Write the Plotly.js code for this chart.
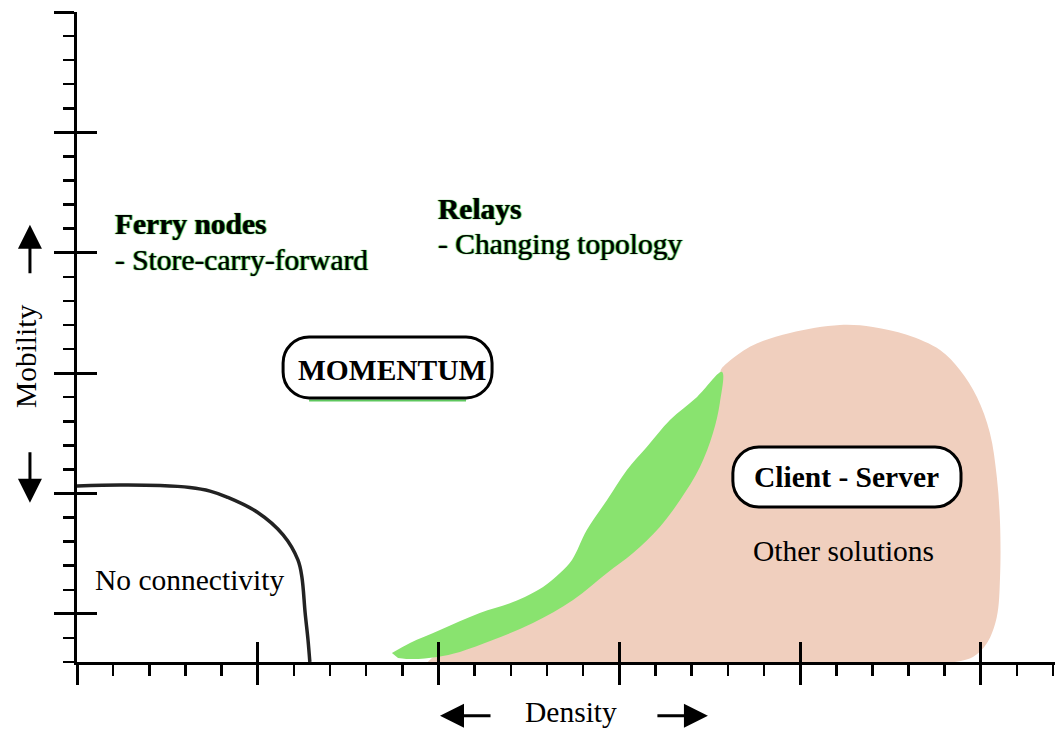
<!DOCTYPE html>
<html><head><meta charset="utf-8">
<script src="https://cdn.plot.ly/plotly-3.0.1.min.js"></script>
<style>html,body{margin:0;padding:0;background:#fff}#chart{width:1056px;height:730px}</style>
</head><body><div id="chart"></div>
<script>
// ---- data (x = density units, y = mobility units) ----
const noConnX = [0, 1.19, 2.30, 3.12, 3.68, 4.15, 4.98, 5.70, 6.11, 6.22, 6.31, 6.39, 6.44];
const noConnY = [7.31, 7.35, 7.33, 7.25, 7.10, 6.85, 6.23, 5.28, 4.24, 3.53, 2.04, 0.91, 0];

const relayX = [8.71, 9.21, 10.04, 11.14, 12.06, 12.89, 13.36, 13.69, 14.10, 14.66, 15.21, 15.76, 16.40, 17.15, 17.84,
                17.78, 17.59, 17.23, 16.68, 16.12, 15.38, 14.66, 13.72, 12.61, 11.50, 10.59, 9.96, 9.29, 8.88];
const relayY = [0.37, 0.79, 1.33, 2.04, 2.49, 3.12, 3.70, 4.24, 5.48, 6.73, 7.98, 8.93, 10.05, 11.01, 12.05,
                10.76, 9.51, 8.10, 6.73, 5.61, 4.53, 3.70, 2.58, 1.62, 0.91, 0.42, 0.21, 0.12, 0.17];

const otherX = [9.70, 9.90, 10.50, 11.40, 12.50, 13.60, 14.55, 15.28, 16.02, 16.58, 17.12, 17.48, 17.68, 17.80,
                17.84, 18.61, 19.72, 21.10, 22.01, 22.95, 23.87, 24.42, 24.89, 25.25, 25.44, 25.53, 25.53, 25.44, 25.17, 24.78, 24.28];
const otherY = [0, 0.25, 0.48, 0.98, 1.70, 2.68, 3.82, 4.66, 5.75, 6.88, 8.25, 9.65, 10.85, 12.10,
                12.21, 13.09, 13.67, 14.00, 13.92, 13.59, 12.96, 12.13, 11.01, 9.51, 7.69, 5.77, 3.53, 1.87, 0.79, 0.21, 0];

const xRange = [0, 27.05];
const yRange = [0, 27];
const xMajorStep = 5, xMinorStep = 1;
const yMajorStart = 2, yMajorStep = 5, yMinorStep = 1;

const groupTitles = ["Ferry nodes", "Relays"];
const groupNotes = ["- Store-carry-forward", "- Changing topology"];
const boxLabels = ["MOMENTUM", "Client - Server"];
const plainLabels = ["Other solutions", "No connectivity"];
const axisLabels = ["Density", "Mobility"];

// ---- layout constants ----
const W = 1056, H = 730;
const M = {l: 77, r: 1, t: 12, b: 68, pad: 0};
const pxX = (W - M.l - M.r) / (xRange[1] - xRange[0]);
const pxY = (H - M.t - M.b) / (yRange[1] - yRange[0]);
const SERIF = '"Liberation Serif", "Times New Roman", serif';
const FS = 29.5;
const GREEN_SHADOW = '0.7px 0px 0.8px #35b535, -0.7px 0px 0.8px #35b535';

function roundedPath(x0, x1, y0, y1, rpx) {
  const rx = rpx / pxX, ry = rpx / pxY, k = 0.5523;
  return `M${x0+rx},${y1} L${x1-rx},${y1} ` +
    `C${x1-rx+k*rx},${y1} ${x1},${y1-ry+k*ry} ${x1},${y1-ry} ` +
    `L${x1},${y0+ry} C${x1},${y0+ry-k*ry} ${x1-rx+k*rx},${y0} ${x1-rx},${y0} ` +
    `L${x0+rx},${y0} C${x0+rx-k*rx},${y0} ${x0},${y0+ry-k*ry} ${x0},${y0+ry} ` +
    `L${x0},${y1-ry} C${x0},${y1-ry+k*ry} ${x0+rx-k*rx},${y1} ${x0+rx},${y1} Z`;
}

const boxes = [
  {x0: 5.70, x1: 11.48, y0: 10.97, y1: 13.50, cx: 8.71, cy: 12.14},
  {x0: 18.14, x1: 24.45, y0: 6.44, y1: 8.93, cx: 21.28, cy: 7.69}
];
const R = 26;

const traces = [
  {x: otherX, y: otherY, mode: 'lines', fill: 'toself', fillcolor: '#f0cfbe',
   line: {color: 'rgba(0,0,0,0)', width: 0, shape: 'spline', smoothing: 1}, hoverinfo: 'skip'},
  {x: relayX, y: relayY, mode: 'lines', fill: 'toself', fillcolor: '#89e36f',
   line: {color: 'rgba(0,0,0,0)', width: 0, shape: 'spline', smoothing: 1}, hoverinfo: 'skip'},
  {x: noConnX, y: noConnY, mode: 'lines',
   line: {color: '#222', width: 3.5, shape: 'spline', smoothing: 1}, hoverinfo: 'skip'},
  {x: [], y: [], xaxis: 'x2', yaxis: 'y2', hoverinfo: 'skip'}
];

const shapes = boxes.map(b => ({
  type: 'path', xref: 'x', yref: 'y', layer: 'above',
  path: roundedPath(b.x0, b.x1, b.y0, b.y1, R),
  fillcolor: '#ffffff', line: {color: '#000', width: 3}
}));
// green shadow line under the MOMENTUM box
shapes.unshift({
  type: 'line', xref: 'x', yref: 'y', layer: 'above',
  x0: boxes[0].x0 + R / pxX, x1: boxes[0].x1 - R / pxX,
  y0: boxes[0].y0 - 2.5 / pxY, y1: boxes[0].y0 - 2.5 / pxY,
  line: {color: '#5ec85e', width: 2}
});

function txt(text, x, y, o) {
  o = o || {};
  return Object.assign({
    x, y, xref: 'x', yref: 'y', text, showarrow: false,
    xanchor: o.xanchor || 'center', yanchor: 'middle',
    font: Object.assign({family: SERIF, size: FS, color: '#000'}, o.font || {})
  }, o.extra || {});
}
// positions below the x axis are given in paper units (0 = axis, 1 = top of plot)
const belowY = -0.0775, arrowRowY = -0.0825, leftColX = -0.0481;
function arrow(x, y, ax, ay, xref, yref) {
  return {x, y, xref: xref || 'x', yref: yref || 'y', text: '', showarrow: true,
    ax, ay, axref: 'pixel', ayref: 'pixel', arrowhead: 2, arrowsize: 1.6, arrowwidth: 3,
    arrowcolor: '#000', standoff: 0, startstandoff: 0};
}

const annotations = [
  txt(groupTitles[0], 1.0, 18.20, {xanchor: 'left', font: {weight: 700, shadow: GREEN_SHADOW}}),
  txt(groupNotes[0], 1.0, 16.68, {xanchor: 'left', font: {shadow: GREEN_SHADOW}}),
  txt(groupTitles[1], 9.93, 18.82, {xanchor: 'left', font: {weight: 700, shadow: GREEN_SHADOW}}),
  txt(groupNotes[1], 9.93, 17.35, {xanchor: 'left', font: {shadow: GREEN_SHADOW}}),
  txt(boxLabels[0], boxes[0].cx, boxes[0].cy, {font: {weight: 700}}),
  txt(boxLabels[1], boxes[1].cx, boxes[1].cy, {font: {weight: 700}}),
  txt(plainLabels[0], 21.21, 4.61),
  txt(plainLabels[1], 3.10, 3.41),
  Object.assign(txt(axisLabels[0], 13.65, 0), {yref: 'paper', y: belowY}),
  Object.assign(txt(axisLabels[1], 0, 12.71), {xref: 'paper', x: -0.0521, textangle: -90}),
  arrow(leftColX, 18.16, 0, 50, 'paper', 'y'),
  arrow(leftColX, 6.61, 0, -52, 'paper', 'y'),
  arrow(10.04, arrowRowY, 52, 0, 'x', 'paper'),
  arrow(17.45, arrowRowY, -52, 0, 'x', 'paper')
];

const axCommon = {showgrid: false, zeroline: false, showticklabels: false, fixedrange: true};
const layout = {
  width: W, height: H, margin: M, paper_bgcolor: '#fff', plot_bgcolor: '#fff', showlegend: false,
  xaxis: Object.assign({}, axCommon, {
    range: xRange, showline: true, linewidth: 3, linecolor: '#000',
    ticks: 'outside', ticklen: 20, tickwidth: 3, tickcolor: '#000', tick0: 0, dtick: xMajorStep,
    minor: {ticks: 'outside', ticklen: 11, tickwidth: 2.5, tickcolor: '#000', tick0: 0, dtick: xMinorStep, showgrid: false},
    layer: 'above traces'
  }),
  yaxis: Object.assign({}, axCommon, {
    range: yRange, showline: true, linewidth: 3, linecolor: '#000',
    ticks: 'outside', ticklen: 20, tickwidth: 3, tickcolor: '#000', tick0: yMajorStart, dtick: yMajorStep,
    minor: {ticks: 'outside', ticklen: 11, tickwidth: 2.5, tickcolor: '#000', tick0: 0, dtick: yMinorStep, showgrid: false},
    layer: 'above traces'
  }),
  xaxis2: Object.assign({}, axCommon, {
    range: xRange, overlaying: 'x', anchor: 'y2', side: 'bottom', showline: false,
    ticks: 'inside', ticklen: 20, tickwidth: 3, tickcolor: '#000', tick0: 0, dtick: xMajorStep,
    layer: 'above traces'
  }),
  yaxis2: Object.assign({}, axCommon, {
    range: yRange, overlaying: 'y', anchor: 'x2', side: 'left', showline: false,
    ticks: 'inside', ticklen: 20, tickwidth: 3, tickcolor: '#000', tick0: yMajorStart, dtick: yMajorStep,
    layer: 'above traces'
  }),
  shapes, annotations
};

Plotly.newPlot('chart', traces, layout, {staticPlot: true, displayModeBar: false});
</script></body></html>
